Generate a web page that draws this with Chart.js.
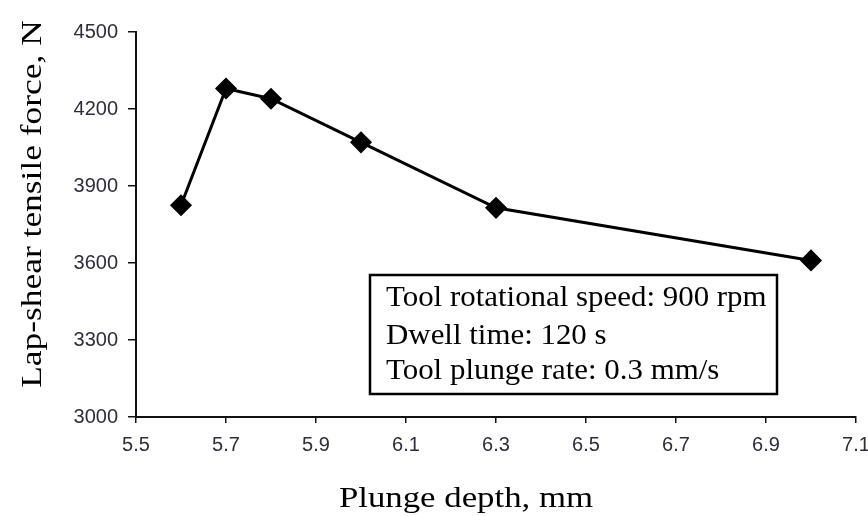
<!DOCTYPE html>
<html>
<head>
<meta charset="utf-8">
<script src="https://cdn.jsdelivr.net/npm/chart.js@4.4.0/dist/chart.umd.min.js"></script>
<style>
    html, body { margin: 0; padding: 0; background: #fff; }
</style>
</head>
<body>
<canvas id="forceChart" width="868" height="516"></canvas>
<script>

// DATI
const plungeDepths = [5.6, 5.7, 5.8, 6.0, 6.3, 7.0];

const tensileForces = [3825, 4280, 4240, 4070, 3815, 3610];

const xTickValues = [5.5, 5.7, 5.9, 6.1, 6.3, 6.5, 6.7, 6.9, 7.1];

const yTickValues = [3000, 3300, 3600, 3900, 4200, 4500];

const conditionLines = [
    "Tool rotational speed: 900 rpm",
    "Dwell time: 120 s",
    "Tool plunge rate: 0.3 mm/s"
];

const xTitle = "Plunge depth, mm";

const yTitle = "Lap-shear tensile force, N";

const serif = "'Liberation Serif', 'Times New Roman', serif";

const sans = "'Liberation Sans', Arial, sans-serif";

// testo allargato in orizzontale come nell'originale
function drawWideText(ctx, text, x, y, stretch, align, rotate) {

    ctx.save();

    ctx.translate(x, y);

    if (rotate) {
        ctx.rotate(-Math.PI / 2);
    }

    ctx.scale(stretch, 1);

    ctx.textAlign = align;

    ctx.textBaseline = "alphabetic";

    ctx.fillText(text, 0, 0);

    ctx.restore();
}

// TITOLI E RIQUADRO
const extrasPlugin = {

    id: "extras",

    afterDraw(chart) {

        const ctx = chart.ctx;

        ctx.fillStyle = "#000";

        ctx.font = "29px " + serif;

        drawWideText(ctx, xTitle, 466, 507, 1.2, "center", false);

        ctx.font = "30px " + serif;

        drawWideText(ctx, yTitle, 41, 204, 1.18, "center", true);

        // riquadro condizioni
        ctx.save();

        ctx.fillStyle = "#fff";

        ctx.fillRect(370, 275, 407, 119);

        ctx.strokeStyle = "#000";

        ctx.lineWidth = 2.5;

        ctx.strokeRect(370, 275, 407, 119);

        ctx.restore();

        ctx.fillStyle = "#000";

        ctx.font = "30px " + serif;

        const baselines = [306, 344, 379];

        conditionLines.forEach((line, i) => {

            drawWideText(ctx, line, 386, baselines[i], 1.03, "left", false);
        });
    }
};

const points = plungeDepths.map((x, i) => ({
    x: x,
    y: tensileForces[i]
}));

const ctx = document.getElementById("forceChart");

const forceChart = new Chart(ctx, {

    type: "line",

    data: {

        datasets: [{

            data: points,

            borderColor: "#000",

            borderWidth: 3,

            pointStyle: "rectRot",

            pointRadius: 10,

            pointBackgroundColor: "#000",

            pointBorderColor: "#000",

            pointBorderWidth: 1.5,

            tension: 0,

            clip: false
        }]
    },

    options: {

        responsive: false,

        animation: false,

        layout: {
            padding: { left: 0, right: 12, top: 32, bottom: 0 }
        },

        plugins: {
            legend: { display: false },
            tooltip: { enabled: false }
        },

        scales: {

            x: {

                type: "linear",

                min: 5.5,

                max: 7.1,

                afterBuildTicks(scale) {
                    scale.ticks = xTickValues.map(v => ({ value: v }));
                },

                afterFit(scale) {
                    scale.height = 99;
                    scale.paddingLeft = 0;
                    scale.paddingRight = 0;
                },

                grid: {
                    drawOnChartArea: false,
                    drawTicks: true,
                    tickLength: 6,
                    color: "#111",
                    lineWidth: 1.5
                },

                border: {
                    display: true,
                    color: "#111",
                    width: 2
                },

                ticks: {
                    color: "#2e2e3a",
                    font: { family: sans, size: 20 },
                    padding: 10,
                    maxRotation: 0,
                    autoSkip: false,
                    callback: v => v.toFixed(1)
                }
            },

            y: {

                min: 3000,

                max: 4500,

                afterBuildTicks(scale) {
                    scale.ticks = yTickValues.map(v => ({ value: v }));
                },

                afterFit(scale) {
                    scale.width = 136;
                    scale.paddingTop = 0;
                    scale.paddingBottom = 0;
                },

                grid: {
                    drawOnChartArea: false,
                    drawTicks: true,
                    tickLength: 8,
                    color: "#111",
                    lineWidth: 1.5
                },

                border: {
                    display: true,
                    color: "#111",
                    width: 2
                },

                ticks: {
                    color: "#2e2e3a",
                    font: { family: sans, size: 20 },
                    padding: 10,
                    callback: v => String(v)
                }
            }
        }
    },

    plugins: [extrasPlugin]
});
</script>
</body>
</html>
